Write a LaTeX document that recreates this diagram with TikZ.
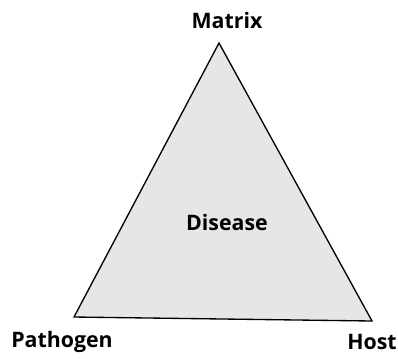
\documentclass[tikz,border=0pt]{standalone}
\usepackage{fontspec}
\setmainfont{Open Sans}
\usetikzlibrary{positioning}
\definecolor{trifill}{HTML}{E6E6E6}
\tikzset{
  corner/.style={font=\bfseries\fontsize{16}{19}\selectfont, inner sep=0pt},
  tri/.style={draw=black, line width=1pt, fill=trifill, line join=miter}
}
\begin{document}
\begin{tikzpicture}[x=0.75pt, y=-0.75pt]
  \useasboundingbox (0,0) rectangle (398,358);
  \coordinate (top) at (219,43);
  \coordinate (left) at (74,317);
  \coordinate (right) at (372,321);
  \draw[tri] (top) -- (left) -- (right) -- cycle;
  \node[corner] (matrix) at (227,20) {Matrix};
  \node[corner] (pathogen) at (62,342) {Pathogen};
  \node[corner] (host) at (372,342) {Host};
  \node[corner] (disease) at (227,222) {Disease};
\end{tikzpicture}
\end{document}
